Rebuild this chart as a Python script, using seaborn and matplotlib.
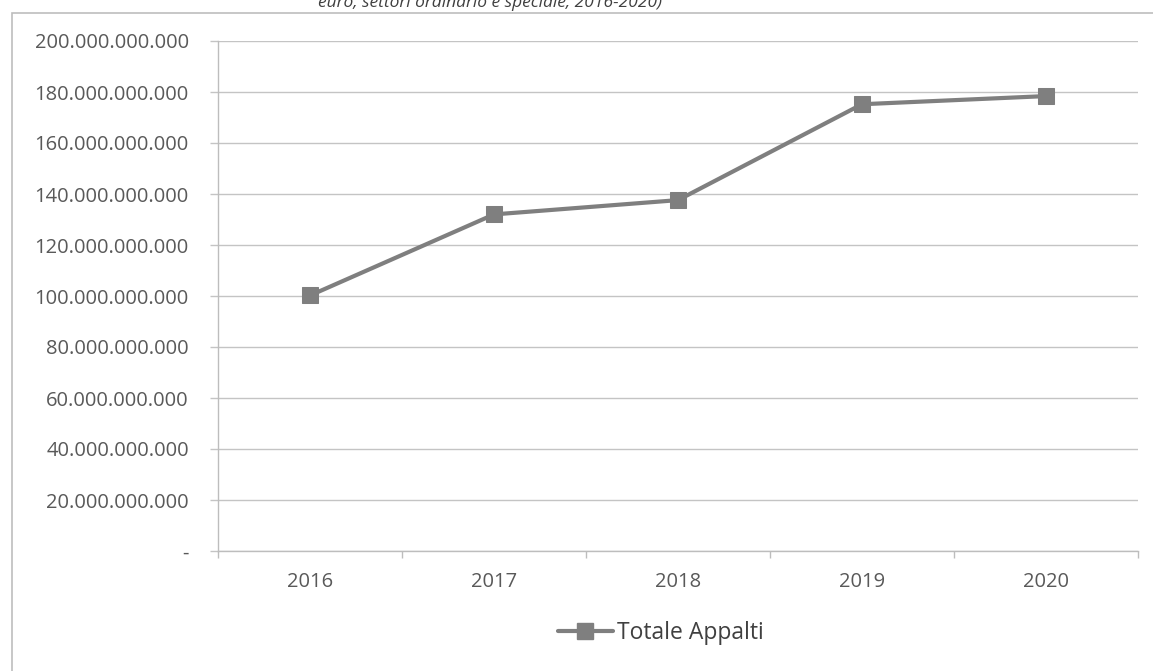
import matplotlib
matplotlib.use("Agg")
import matplotlib.pyplot as plt
from matplotlib.ticker import FuncFormatter, FixedLocator
from matplotlib.lines import Line2D
from matplotlib.patches import Rectangle
import seaborn as sns
import pandas as pd

# Totale appalti (euro), settori ordinario e speciale
anni = ["2016", "2017", "2018", "2019", "2020"]
totale_appalti = [100.2e9, 132.0e9, 137.6e9, 175.2e9, 178.4e9]
serie = "Totale Appalti"
titolo = "euro, settori ordinario e speciale, 2016-2020)"

sns.set_theme(style="white")
plt.rcParams["font.family"] = ["Open Sans", "DejaVu Sans"]

W, H = 1153, 671
fig = plt.figure(figsize=(W / 100, H / 100), dpi=100)
ax = fig.add_axes([218 / W, 1 - 551 / H, (1138 - 218) / W, (551 - 41) / H])

df = pd.DataFrame({"anno": anni, "valore": totale_appalti})
grey = "#7f7f7f"
sns.lineplot(data=df, x="anno", y="valore", ax=ax, color=grey, linewidth=3,
             marker="s", markersize=11, markeredgecolor=grey,
             markerfacecolor=grey, sort=False)

ax.set_xlim(-0.5, len(anni) - 0.5)
ax.set_ylim(0, 200e9)
ax.yaxis.set_major_locator(FixedLocator([i * 20e9 for i in range(11)]))


def fmt_it(v, pos):
    if v == 0:
        return "-"
    return f"{v:,.0f}".replace(",", ".")


ax.yaxis.set_major_formatter(FuncFormatter(fmt_it))
ax.grid(axis="y", color="#c4c4c4", linewidth=1)
ax.set_axisbelow(True)
for s in ["top", "right"]:
    ax.spines[s].set_visible(False)
ax.spines["left"].set_color("#bdbdbd")
ax.spines["bottom"].set_color("#bdbdbd")
ax.spines["left"].set_linewidth(1)
ax.spines["bottom"].set_linewidth(1)

# category boundaries carry the x tick marks
ax.set_xticks([i - 0.5 for i in range(len(anni) + 1)], minor=False)
ax.set_xticklabels([""] * (len(anni) + 1))
ax.set_xticks(range(len(anni)), minor=True)
ax.set_xticklabels(anni, minor=True)
ax.tick_params(axis="x", which="major", length=5, width=1, color="#bdbdbd",
               direction="out", bottom=True)
ax.tick_params(axis="x", which="minor", length=0, pad=15, labelsize=14.5,
               labelcolor="#595959")
ax.tick_params(axis="y", length=6, width=1, color="#c4c4c4", direction="out",
               left=True, pad=15, labelsize=14.5, labelcolor="#595959")
ax.set_xlabel("")
ax.set_ylabel("")
if ax.get_legend() is not None:
    ax.get_legend().remove()

handle = Line2D([], [], color=grey, linewidth=3, marker="s", markersize=11,
                markerfacecolor=grey, markeredgecolor=grey)
fig.legend([handle], [serie], loc="center", bbox_to_anchor=(661 / W, 1 - 633 / H),
           frameon=False, fontsize=16.5, labelcolor="#404040", handlelength=2.4,
           handletextpad=0.2)

# outer chart frame
fig.patches.append(Rectangle((12 / W, -0.1), 1.2, 1 - 13 / H + 0.1,
                             transform=fig.transFigure, fill=False,
                             edgecolor="#bdbdbd", linewidth=1.2))

fig.text(490 / W, 1 - 7 / H, titolo, ha="center", va="baseline",
         fontsize=12.5, style="italic", color="#404040")

fig.savefig("out.png", dpi=100, facecolor="white")
